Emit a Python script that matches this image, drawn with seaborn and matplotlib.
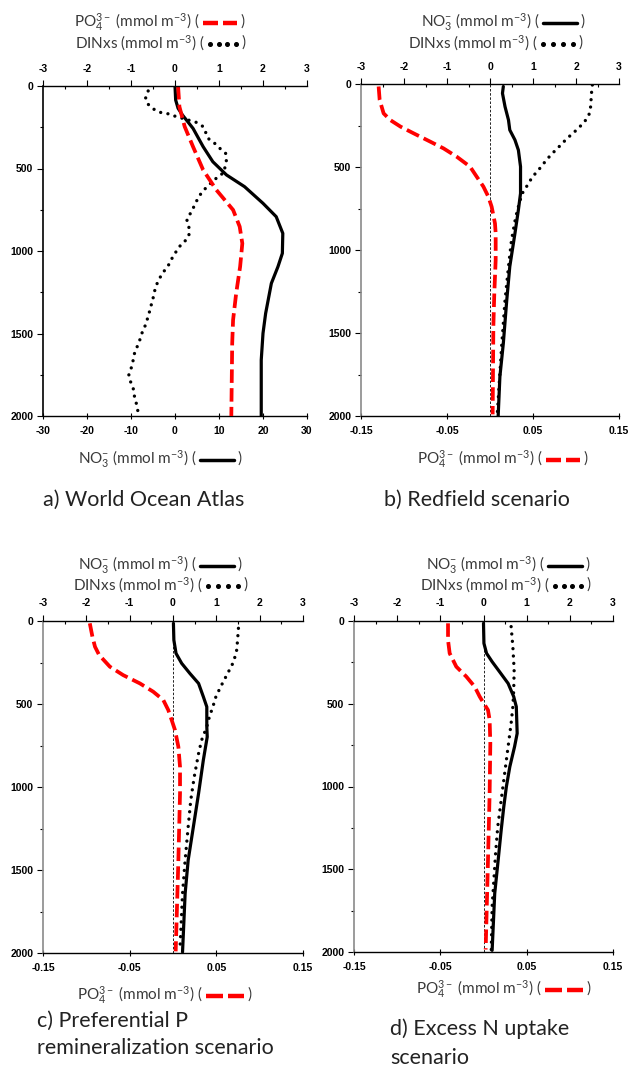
import numpy as np
import pandas as pd
import matplotlib
matplotlib.use("Agg")
import matplotlib.pyplot as plt
import seaborn as sns
from matplotlib.lines import Line2D
from matplotlib.ticker import MultipleLocator

# ---------------- data (depth in m) ----------------
# a) World Ocean Atlas
a_no3_depth = [0, 85, 135, 176, 257, 368, 459, 539, 610, 711, 792, 893, 1014, 1095, 1196, 1378, 1499, 1661, 2000]
a_no3 = [0, 0.15, 0.7, 1.7, 4.1, 6.4, 8.6, 11.7, 15.8, 20.0, 23.0, 24.5, 24.4, 23.4, 21.9, 20.6, 20.0, 19.6, 19.6]
a_po4_depth = [0, 125, 246, 368, 509, 630, 751, 852, 954, 1095, 1257, 1418, 1560, 2000]
a_po4 = [0.07, 0.10, 0.22, 0.41, 0.64, 0.94, 1.32, 1.47, 1.53, 1.48, 1.39, 1.32, 1.30, 1.28]
a_din_depth = [30, 75, 111, 145, 162, 170, 182, 220, 246, 283, 317, 347, 378, 408, 448, 525, 549, 580,
               610, 644, 681, 731, 782, 812, 842, 893, 929, 960, 994, 1034, 1075, 1115, 1156, 1186, 1226,
               1267, 1327, 1388, 1448, 1489, 1539, 1580, 1620, 1661, 1705, 1752, 1792, 1832, 1883, 1923, 1975]
a_din = [-0.61, -0.67, -0.61, -0.46, -0.31, -0.12, -0.01, 0.48, 0.64, 0.70, 0.75, 0.90, 1.02, 1.15, 1.17,
         1.11, 0.98, 0.85, 0.73, 0.61, 0.52, 0.43, 0.33, 0.27, 0.31, 0.33, 0.27, 0.14, 0.05, -0.05, -0.12,
         -0.23, -0.33, -0.39, -0.45, -0.48, -0.54, -0.60, -0.67, -0.74, -0.80, -0.86, -0.92, -0.95, -0.99,
         -1.05, -1.01, -0.95, -0.92, -0.88, -0.84]

# b) Redfield scenario
b_no3_depth = [15, 56, 137, 217, 277, 337, 398, 498, 659, 759, 900, 1100, 1301, 1562, 1763, 2000]
b_no3 = [0.31, 0.29, 0.35, 0.43, 0.46, 0.58, 0.66, 0.71, 0.71, 0.66, 0.58, 0.46, 0.39, 0.31, 0.23, 0.19]
b_din_depth = [6, 56, 137, 187, 227, 257, 287, 317, 347, 382, 418, 452, 488, 524, 558, 618, 659, 719,
               799, 940, 1100, 1301, 1582, 1783, 1990]
b_din = [2.38, 2.36, 2.34, 2.30, 2.20, 2.09, 1.97, 1.84, 1.72, 1.59, 1.45, 1.33, 1.22, 1.11, 0.99, 0.85,
         0.75, 0.68, 0.60, 0.50, 0.43, 0.35, 0.27, 0.22, 0.17]
b_po4_depth = [15, 96, 177, 217, 257, 297, 347, 388, 438, 498, 558, 618, 679, 739, 840, 900, 1060, 1261, 1462, 1990]
b_po4 = [-0.1295, -0.1283, -0.1237, -0.116, -0.104, -0.0889, -0.0696, -0.054, -0.0387, -0.0232, -0.0155,
         -0.0077, -0.0019, 0.0019, 0.0058, 0.0066, 0.0066, 0.005, 0.0039, 0.0031]

# c) Preferential P remineralization scenario
c_po4_depth = [14, 94, 155, 205, 275, 326, 376, 426, 476, 537, 597, 657, 758, 878, 1039, 1441, 1990]
c_po4 = [-0.096, -0.093, -0.090, -0.0852, -0.0729, -0.0575, -0.0382, -0.0228, -0.0112, -0.0054, -0.0015,
         0.0023, 0.0062, 0.0081, 0.0081, 0.0062, 0.0031]
c_no3_depth = [14, 115, 195, 255, 316, 376, 456, 517, 637, 698, 838, 1039, 1240, 1441, 1642, 1994]
c_no3 = [0.01, 0.02, 0.07, 0.20, 0.39, 0.59, 0.70, 0.78, 0.78, 0.79, 0.70, 0.59, 0.47, 0.35, 0.28, 0.22]
c_din_depth = [44, 115, 175, 245, 296, 346, 396, 456, 517, 577, 637, 718, 798, 939, 1079, 1240, 1441, 1642, 1984]
c_din = [1.51, 1.49, 1.47, 1.40, 1.30, 1.20, 1.10, 0.99, 0.92, 0.84, 0.78, 0.66, 0.59, 0.49, 0.41, 0.35,
         0.28, 0.22, 0.16]

# d) Excess N uptake scenario
d_po4_depth = [14, 115, 195, 276, 336, 397, 457, 497, 538, 598, 739, 1041, 1444, 1985]
d_po4 = [-0.0411, -0.0411, -0.0392, -0.0315, -0.0199, -0.0102, -0.0044, 0.0002, 0.0052, 0.0071, 0.0079,
         0.0071, 0.0052, 0.0025]
d_no3_depth = [14, 135, 195, 246, 306, 377, 457, 518, 679, 759, 880, 1001, 1122, 1263, 1444, 1646, 1990]
d_no3 = [0.0, 0.01, 0.07, 0.20, 0.37, 0.57, 0.70, 0.76, 0.78, 0.72, 0.61, 0.53, 0.47, 0.41, 0.34, 0.26, 0.20]
d_din_depth = [34, 155, 296, 417, 518, 618, 719, 840, 961, 1102, 1243, 1404, 1565, 1726, 1988]
d_din = [0.64, 0.68, 0.71, 0.70, 0.68, 0.64, 0.59, 0.53, 0.47, 0.40, 0.33, 0.28, 0.24, 0.20, 0.18]

top_ticks = [-3, -2, -1, 0, 1, 2, 3]
no3_ticks = [-30, -20, -10, 0, 10, 20, 30]
po4_ticks = [-0.15, -0.05, 0.05, 0.15]
po4_labels = ["-0.15", "-0.05", "0.05", "0.15"]
depth_ticks = [0, 500, 1000, 1500, 2000]

lbl_no3 = r"NO$_3^{-}$ (mmol m$^{-3}$) ("
lbl_po4 = r"PO$_4^{3-}$ (mmol m$^{-3}$) ("
lbl_din = r"DINxs (mmol m$^{-3}$) ("
captions = ["a) World Ocean Atlas", "b) Redfield scenario",
            "c) Preferential P\nremineralization scenario", "d) Excess N uptake\nscenario"]

# ---------------- style ----------------
sns.set_theme(style="white")
plt.rcParams["font.family"] = ["Lato", "DejaVu Sans"]
plt.rcParams["mathtext.fontset"] = "custom"
plt.rcParams["mathtext.rm"] = "Lato"
plt.rcParams["mathtext.it"] = "Lato:italic"
plt.rcParams["mathtext.bf"] = "Lato:bold"
plt.rcParams["axes.unicode_minus"] = False

W, H = 629, 1067
fig = plt.figure(figsize=(W / 100, H / 100), dpi=100)
fig.patch.set_facecolor("white")

RED = "#ff0000"
TXT = "#3a3a3a"
CAP = "#222222"
SOLID = dict(color="black", linewidth=2.3, linestyle="-")
DASH = dict(color=RED, linewidth=2.7, linestyle=(0, (3.6, 1.4)))
DOT = dict(color="black", linewidth=2.4, linestyle=(0, (0.01, 2.2)), dash_capstyle="round")
KEYSIZE = 11
CAPSIZE = 15.5


def axrect(l, r, t, b):
    return [l / W, 1 - b / H, (r - l) / W, (b - t) / H]


def line(ax, x, y, kw):
    sns.lineplot(x=x, y=y, ax=ax, sort=False, estimator=None, **kw)


def tickfont(labels):
    for t in labels:
        t.set_fontfamily("Liberation Sans")
        t.set_fontweight("bold")
        t.set_fontsize(7.5)
        t.set_color("black")


def make_panel(rect, left_color, bottom_ticks, bottom_labels, bottom_lim, zero_line):
    ax = fig.add_axes(rect)
    ax.set_facecolor("none")
    axt = ax.twiny()
    axt.set_facecolor("none")
    for s in ["top", "right"]:
        ax.spines[s].set_visible(False)
    ax.spines["left"].set_color(left_color)
    ax.spines["left"].set_linewidth(1.2)
    ax.spines["bottom"].set_color("black")
    ax.spines["bottom"].set_linewidth(1.0)
    for s in ["left", "right", "bottom"]:
        axt.spines[s].set_visible(False)
    axt.spines["top"].set_color("black")
    axt.spines["top"].set_linewidth(1.0)

    ax.set_xlim(*bottom_lim)
    ax.set_xticks(bottom_ticks, bottom_labels)
    ax.tick_params(axis="x", which="major", direction="inout", length=5, width=0.8,
                   color="black", pad=5, bottom=True)
    ax.set_ylim(2000, 0)
    ax.set_yticks(depth_ticks)
    ax.yaxis.set_minor_locator(MultipleLocator(250))
    ax.tick_params(axis="y", which="major", direction="out", length=4, width=0.8,
                   color="black", pad=3, left=True)
    ax.tick_params(axis="y", which="minor", direction="out", length=2.5, width=0.8,
                   color="black", left=True)

    axt.set_xlim(-3, 3)
    axt.set_xticks(top_ticks)
    axt.xaxis.set_minor_locator(MultipleLocator(0.5))
    axt.tick_params(axis="x", which="major", direction="out", length=4, width=0.8,
                    color="black", pad=5, top=True)
    axt.tick_params(axis="x", which="minor", direction="in", length=2.5, width=0.8,
                    color="black", top=True)
    if zero_line:
        ax.axvline(0, color="black", linewidth=0.6, linestyle=(0, (3, 2)), zorder=0)
    return ax, axt


def finish(ax, axt):
    ax.set_xlabel("")
    ax.set_ylabel("")
    axt.set_xlabel("")
    axt.set_ylabel("")
    tickfont(ax.get_xticklabels())
    tickfont(ax.get_yticklabels())
    tickfont(axt.get_xticklabels())
    ax.grid(False)
    axt.grid(False)


def key(text, x_end, y, kind, width=34):
    fy = 1 - y / H
    fig.text(x_end / W, fy, text, ha="right", va="center", fontsize=KEYSIZE, color=TXT)
    x0, x1 = x_end + 3, x_end + 3 + width
    ly = 1 - (y + 1) / H
    if kind == "no3":
        fig.add_artist(Line2D([x0 / W, x1 / W], [ly, ly], transform=fig.transFigure,
                              color="black", linewidth=2.5))
    elif kind == "po4":
        mid = (x0 + x1) / 2
        for a, b in [(x0, mid - 2.5), (mid + 2.5, x1)]:
            fig.add_artist(Line2D([a / W, b / W], [ly, ly], transform=fig.transFigure,
                                  color=RED, linewidth=3.2, solid_capstyle="butt"))
    else:
        xs = np.linspace(x0 + 2, x1 - 2, 4)
        fig.add_artist(Line2D(xs / W, [ly] * 4, transform=fig.transFigure, color="black",
                              linestyle="none", marker="o", markersize=2.6))
    fig.text((x1 + 3) / W, fy, ")", ha="left", va="center", fontsize=KEYSIZE, color=TXT)


# ---------------- panel a ----------------
ax, axt = make_panel(axrect(43, 307, 86, 416), "black", no3_ticks,
                     [str(v) for v in no3_ticks], (-30, 30), False)
line(axt, a_din, a_din_depth, DOT)
line(axt, a_po4, a_po4_depth, DASH)
line(ax, a_no3, a_no3_depth, SOLID)
finish(ax, axt)
key(lbl_po4, 200, 22, "po4")
key(lbl_din, 205, 43, "din", 30)
key(lbl_no3, 197, 459, "no3")
fig.text(43 / W, 1 - 500 / H, captions[0], ha="left", va="center", fontsize=CAPSIZE, color=CAP)

# ---------------- panel b ----------------
ax, axt = make_panel(axrect(361, 619, 84, 416), "#8a8a8a", po4_ticks, po4_labels, (-0.15, 0.15), True)
line(ax, b_po4, b_po4_depth, DASH)
line(axt, b_din, b_din_depth, DOT)
line(axt, b_no3, b_no3_depth, SOLID)
finish(ax, axt)
key(lbl_no3, 540, 22, "no3")
key(lbl_din, 538, 43, "din")
key(lbl_po4, 543, 459, "po4")
fig.text(384 / W, 1 - 500 / H, captions[1], ha="left", va="center", fontsize=CAPSIZE, color=CAP)

# ---------------- panel c ----------------
ax, axt = make_panel(axrect(43, 303, 621, 953), "#8a8a8a", po4_ticks, po4_labels, (-0.15, 0.15), True)
line(ax, c_po4, c_po4_depth, DASH)
line(axt, c_din, c_din_depth, DOT)
line(axt, c_no3, c_no3_depth, SOLID)
finish(ax, axt)
key(lbl_no3, 197, 565, "no3")
key(lbl_din, 203, 585, "din")
key(lbl_po4, 203, 995, "po4", 38)
fig.text(37 / W, 1 - 1034 / H, captions[2], ha="left", va="center", fontsize=CAPSIZE,
         color=CAP, linespacing=1.45)

# ---------------- panel d ----------------
ax, axt = make_panel(axrect(354, 613, 621, 952), "#8a8a8a", po4_ticks, po4_labels, (-0.15, 0.15), True)
line(ax, d_po4, d_po4_depth, DASH)
line(axt, d_din, d_din_depth, DOT)
line(axt, d_no3, d_no3_depth, SOLID)
finish(ax, axt)
key(lbl_no3, 545, 565, "no3")
key(lbl_din, 550, 585, "din", 30)
key(lbl_po4, 542, 989, "po4", 38)
fig.text(390 / W, 1 - 1043 / H, captions[3], ha="left", va="center", fontsize=CAPSIZE,
         color=CAP, linespacing=1.55)

fig.savefig("out.png", dpi=100, facecolor="white")
